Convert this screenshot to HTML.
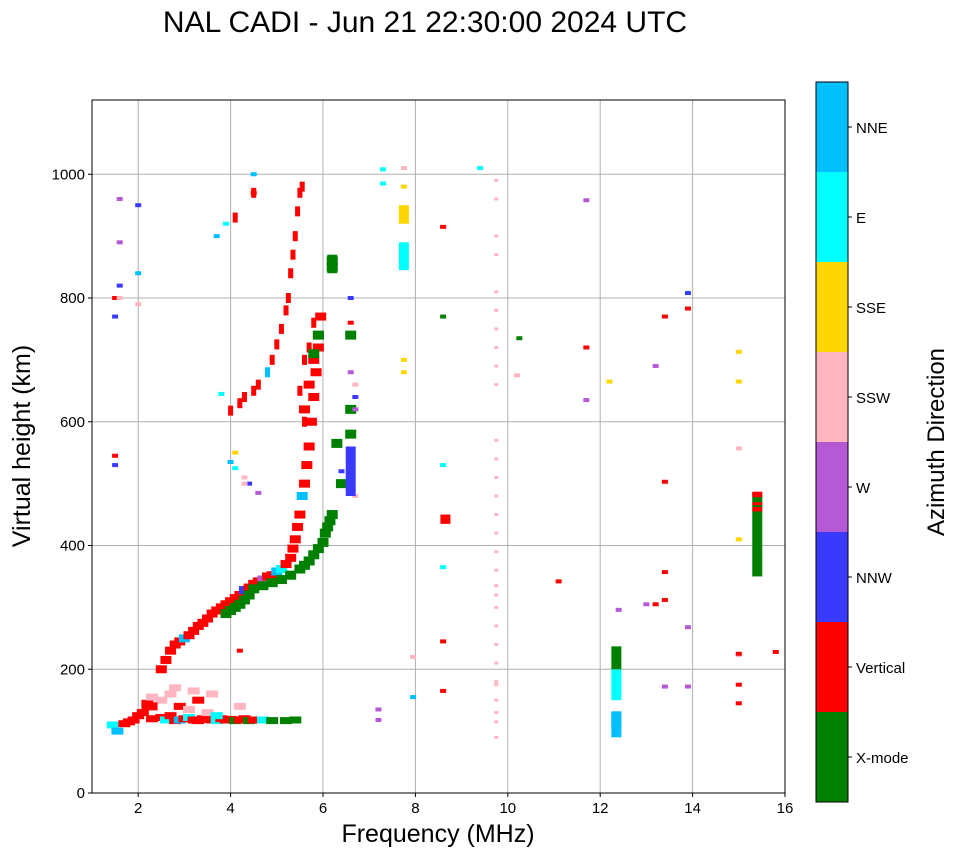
<!DOCTYPE html>
<html><head><meta charset="utf-8"><style>
body{margin:0;background:#fff;}
svg{display:block;font-family:"Liberation Sans",sans-serif;}
</style></head><body>
<svg id="chart" width="958" height="857" viewBox="0 0 958 857">
<text x="425" y="32" text-anchor="middle" font-size="30">NAL CADI - Jun 21 22:30:00 2024 UTC</text>
<g id="grid"></g><g id="marks"></g><g id="axes"></g><g id="cbar"></g>
</svg>
<script>
const NS='http://www.w3.org/2000/svg';
const dirNames=['X-mode','Vertical','NNW','W','SSW','SSE','E','NNE'];
const dirColors=['#008000','#ff0000','#3a3aff','#b55ad4','#ffb6c1','#ffd700','#00ffff','#00bfff'];
const xTicks=[2,4,6,8,10,12,14,16];
const yTicks=[0,200,400,600,800,1000];
// E layer
const eF=[1.45,1.55,1.7,1.8,1.9,2.0,2.1,2.2,2.3,2.5,2.6,2.7,2.8,2.9,3.0,3.1,3.2,3.3,3.4,3.5,3.6,3.7,3.8,3.9,4.0,4.1,4.2,4.3,4.4,4.5,4.7,4.9,5.2,5.4,2.2,2.5,2.7,2.9,3.1,3.3,3.5,3.7,4.2,2.3,2.8,3.2,3.6];
const eH=[110,100,112,115,118,125,130,140,120,122,118,125,117,118,120,122,118,117,120,119,118,117,120,118,119,117,118,120,117,118,118,117,117,118,145,150,160,140,135,150,130,125,140,155,170,165,160];
const eD=[6,7,1,1,1,1,1,1,1,1,6,1,1,7,1,6,1,1,1,1,1,6,1,1,1,0,1,1,0,1,6,0,0,0,1,4,4,1,4,1,4,6,4,4,4,4,4];
// O trace (F layer)
const oF=[2.3,2.5,2.6,2.7,2.8,2.9,3.0,3.1,3.2,3.3,3.4,3.5,3.6,3.7,3.8,3.9,4.0,4.1,4.2,4.3,4.4,4.5,4.6,4.7,4.8,4.9,5.0,5.1,5.2,5.3,5.35,5.4,5.45,5.5,5.55,5.6,5.65,5.7,5.75,5.8,5.85,5.9,5.95,5.6,5.7,5.8,5.9];
const oH=[140,200,215,230,240,245,250,255,262,270,275,282,290,295,300,305,310,315,320,328,332,338,342,345,350,352,358,362,370,380,395,410,430,450,480,500,530,560,600,640,680,720,770,620,660,700,740];
const oD=[1,1,1,1,1,1,7,1,1,1,1,1,1,1,1,1,1,1,1,2,1,1,1,3,1,1,7,6,1,1,1,1,1,1,7,1,1,1,1,1,1,1,1,1,1,1,1];
// upper red branch
const uF=[4.0,4.2,4.3,4.5,4.6,4.8,4.9,5.0,5.1,5.2,5.25,5.3,5.35,5.4,5.45,5.5,5.55,5.6,5.7,5.8,5.5,5.6,4.1,4.5];
const uH=[618,630,640,650,660,680,700,725,750,780,800,840,870,900,940,970,980,700,720,760,650,600,930,970];
const uD=[1,1,1,1,1,7,1,1,1,1,1,1,1,1,1,1,1,1,1,1,1,1,1,1];
// X trace
const xF=[3.9,4.0,4.1,4.2,4.3,4.4,4.5,4.7,4.9,5.1,5.3,5.5,5.6,5.7,5.8,5.9,6.0,6.05,6.1,6.15,6.2,6.2,6.3,6.4,6.6,6.6,6.6,5.8,5.9,6.2];
const xH=[290,295,300,305,312,320,330,335,340,345,352,362,368,375,385,395,405,420,430,440,450,850,565,500,580,620,740,710,740,860];
const xD=[0,0,0,0,0,0,0,0,0,0,0,0,0,0,0,0,0,0,0,0,0,0,0,0,0,0,0,0,0,0];
// scatter
const sF=[1.5,1.5,1.6,1.6,1.6,1.6,1.5,1.5,2.0,2.0,2.0,3.8,3.7,3.9,4.1,4.1,4.3,4.4,4.5,4.5,6.6,6.6,6.6,6.7,6.7,6.7,6.4,6.7,7.3,7.3,7.75,7.75,7.75,7.75,7.75,7.75,7.75,7.95,7.95,8.6,8.6,8.6,8.6,8.6,8.6,9.4,10.25,10.2,11.1,11.7,11.7,11.7,12.2,12.4,13.0,13.2,13.2,13.4,13.4,13.4,13.4,13.4,13.9,13.9,13.9,13.9,15.0,15.0,15.0,15.0,15.0,15.0,15.0,15.0,15.8,7.2,7.2,4.2,4.0,4.3,4.6];
const sH=[800,770,960,890,820,800,545,530,950,840,790,645,900,920,550,525,510,500,1000,970,800,760,680,660,640,620,520,480,1008,985,1010,980,940,880,860,700,680,220,155,915,770,530,365,245,165,1010,735,675,342,958,720,635,665,296,305,690,305,770,503,357,312,172,808,783,268,172,713,665,557,410,223,175,145,225,228,135,118,230,535,500,485];
const sD=[1,2,3,3,2,4,1,2,2,7,4,6,7,6,5,6,4,2,7,1,2,1,3,4,2,3,2,4,6,6,4,5,5,5,7,5,5,4,7,1,0,6,6,1,1,6,0,4,1,3,1,3,5,3,3,3,1,1,1,1,1,3,2,1,3,3,5,5,4,5,4,1,1,1,1,3,3,1,7,4,3];
// vertical columns
const cF=[9.75,9.75,9.75,9.75,9.75,9.75,9.75,9.75,9.75,9.75,9.75,9.75,9.75,9.75,9.75,9.75,9.75,9.75,9.75,9.75,9.75,9.75,9.75,9.75,9.75,9.75,9.75,9.75,9.75,9.75];
const cH=[90,115,130,150,175,180,210,240,270,300,320,335,360,390,420,450,480,510,540,570,660,690,720,750,780,810,870,900,960,990];
const cD=[4,4,4,4,4,4,4,4,4,4,4,4,4,4,4,4,4,4,4,4,4,4,4,4,4,4,4,4,4,4];
// blocks
const bF=[8.65,12.35,12.35,12.35,12.35,15.4,15.4,15.4,15.4,7.75,7.75,6.2,6.6];
const bLo=[435,90,100,150,200,350,455,465,478,845,920,840,480];
const bHi=[450,132,130,200,237,485,462,470,487,890,950,870,560];
const bD=[1,7,7,6,0,0,1,1,1,6,5,0,2];

const X0=92,X1=785,Y0=793,Y1=100;
const xs=f=>X0+(f-1)/15*(X1-X0);
const ys=h=>Y0-h/1120*(Y0-Y1);
function mk(tag,attrs,parent,name,txt){const e=document.createElementNS(NS,tag);for(const k in attrs)e.setAttribute(k,attrs[k]);


if(txt!==undefined)e.textContent=txt;parent.appendChild(e);return e;}
const G=document.getElementById('grid'),M=document.getElementById('marks'),A=document.getElementById('axes'),C=document.getElementById('cbar');
xTicks.forEach(t=>{mk('line',{x1:xs(t),x2:xs(t),y1:Y1,y2:Y0,stroke:'#b0b0b0','stroke-width':1},G,'x-gridline');
mk('line',{x1:xs(t),x2:xs(t),y1:Y0,y2:Y0+4,stroke:'#000'},A,'x-tick');
mk('text',{x:xs(t),y:Y0+20,'text-anchor':'middle','font-size':15},A,'x-tick-label',t);});
yTicks.forEach(t=>{mk('line',{x1:X0-4,x2:X0,y1:ys(t),y2:ys(t),stroke:'#000'},A,'y-tick');
mk('line',{x1:X0,x2:X1,y1:ys(t),y2:ys(t),stroke:'#b0b0b0','stroke-width':1},G,'y-gridline');
mk('text',{x:X0-7,y:ys(t)+5,'text-anchor':'end','font-size':15},A,'y-tick-label',t);});
function draw(F,H,D,w,h,name){for(let i=0;i<F.length;i++){mk('rect',{x:xs(F[i])-w/2,y:ys(H[i])-h/2,width:w,height:h,fill:dirColors[D[i]]},M,name);}}
draw(eF,eH,eD,12,7,'e-layer-echo');
draw(oF,oH,oD,11,8,'o-trace-echo');
draw(uF,uH,uD,5,10,'upper-branch-echo');
draw(xF,xH,xD,11,9,'x-trace-echo');
draw(sF,sH,sD,6,4,'scatter-echo');
draw(cF,cH,cD,4,3,'column-echo');
for(let i=0;i<bF.length;i++){mk('rect',{x:xs(bF[i])-5,y:ys(bHi[i]),width:10,height:ys(bLo[i])-ys(bHi[i]),fill:dirColors[bD[i]]},M,'block-echo');}
mk('rect',{x:X0,y:Y1,width:X1-X0,height:Y0-Y1,fill:'none',stroke:'#000','stroke-width':1},A,'plot-frame');
mk('text',{x:438,y:842,'text-anchor':'middle','font-size':25},A,'x-axis-title','Frequency (MHz)');
mk('text',{x:30,y:446,'text-anchor':'middle','font-size':25,transform:'rotate(-90 30 446)'},A,'y-axis-title','Virtual height (km)');
const cy0=82,cy1=802,ch=(cy1-cy0)/8;
for(let i=0;i<8;i++){const y=cy1-(i+1)*ch;
mk('rect',{x:816,y:y,width:32,height:ch,fill:dirColors[i]},C,'colorbar-segment');
mk('line',{x1:848,x2:852,y1:y+ch/2,y2:y+ch/2,stroke:'#000'},C,'colorbar-tick');
mk('text',{x:856,y:y+ch/2+6,'font-size':15},C,'colorbar-label',dirNames[i]);}
mk('rect',{x:816,y:cy0,width:32,height:cy1-cy0,fill:'none',stroke:'#000'},C,'colorbar-frame');
mk('text',{x:944,y:442,'text-anchor':'middle','font-size':24,transform:'rotate(-90 944 442)'},C,'colorbar-title','Azimuth Direction');
</script>
</body></html>
